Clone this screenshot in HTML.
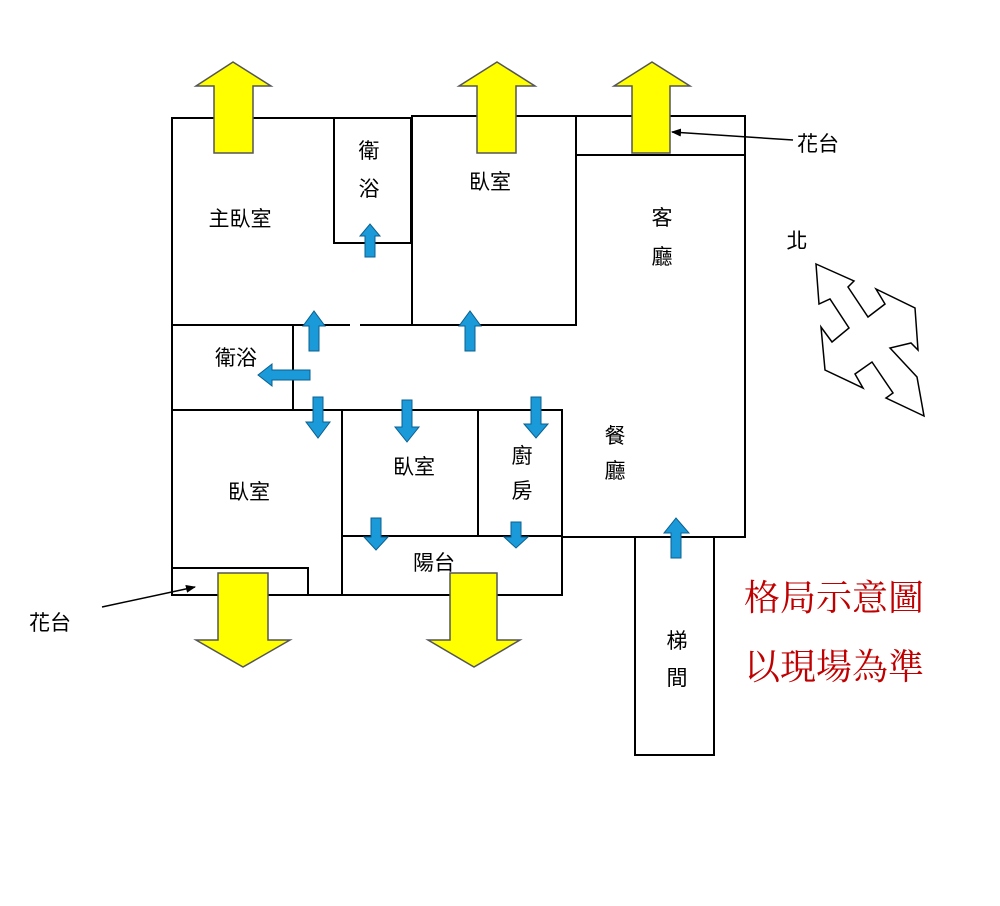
<!DOCTYPE html>
<html><head><meta charset="utf-8"><style>
body{margin:0;background:#fff}
text{font-family:"Liberation Sans","Noto Sans CJK TC",sans-serif;fill:#000}
</style></head><body>
<svg width="1000" height="901" xmlns="http://www.w3.org/2000/svg">
<defs>
<marker id="ah" markerWidth="10" markerHeight="8" refX="9" refY="4" orient="auto" markerUnits="userSpaceOnUse"><path d="M0,0L10,4L0,8z" fill="#000"/></marker>
</defs>
<g fill="none" stroke="#000" stroke-width="2">
<path d="M172,325V118H334"/>
<path d="M334,118H411V243H334V118"/>
<rect x="412" y="116" width="164" height="209"/>
<path d="M576,116H745V537H562"/>
<path d="M576,155H745"/>
<path d="M172,325H350M360,325H576"/>
<path d="M172,325V595H342"/>
<path d="M293,325V410"/>
<path d="M172,410H562V595H342V410"/>
<path d="M478,410V536"/>
<path d="M342,536H562"/>
<path d="M172,568H308V595"/>
<path d="M635,537V755H714V537"/>
</g>
<g stroke="#000" stroke-width="1.5">
<line x1="793" y1="140" x2="672" y2="132" marker-end="url(#ah)"/>
<line x1="102" y1="607" x2="195" y2="587" marker-end="url(#ah)"/>
</g>
<g fill="#ffff00" stroke="#555" stroke-width="1.5">
<path d="M214,153V86H196L233,62L271,86H253V153Z"/>
<path d="M477,153V86H459L497,62L535,86H516V153Z"/>
<path d="M632,153V86H614L652,62L690,86H670V153Z"/>
<path d="M218,573V640H196L243,667L290,640H268V573Z"/>
<path d="M450,573V640H428L474,667L520,640H497V573Z"/>
</g>
<g fill="#1a9ad9" stroke="#0b5f8f" stroke-width="1">
<path d="M365,257V236H360L370,224L380,236H375V257Z"/>
<path d="M309,351V326H303L314,311L325,326H319V351Z"/>
<path d="M465,351V326H459L470,311L481,326H475V351Z"/>
<path d="M310,370H272V364L258,375L272,386V380H310Z"/>
<path d="M313,397V422H306L318,438L330,422H323V397Z"/>
<path d="M402,400V427H395L407,442L419,427H412V400Z"/>
<path d="M531,397V424H524L536,438L548,424H541V397Z"/>
<path d="M371,518V537H364L376,550L388,537H381V518Z"/>
<path d="M511,522V537H504L516,548L528,537H521V522Z"/>
<path d="M671,558V533H664L676,518L689,533H681V558Z"/>
</g>
<path d="M816,264L854,281L848,287L868,317L885,304L876,289L915,308L918,350L911,343L890,348L917,377L924,416L886,398L893,393L872,362L855,374L863,388L825,370L821,327L832,342L849,328L830,299L819,304Z" fill="none" stroke="#000" stroke-width="1.5"/>
<g font-size="21">
<text x="240" y="226" text-anchor="middle">主臥室</text>
<text x="369" y="158" text-anchor="middle">衛</text>
<text x="369" y="196" text-anchor="middle">浴</text>
<text x="490" y="189" text-anchor="middle">臥室</text>
<text x="662" y="225" text-anchor="middle">客</text>
<text x="662" y="264" text-anchor="middle">廳</text>
<text x="236" y="365" text-anchor="middle">衛浴</text>
<text x="249" y="499" text-anchor="middle">臥室</text>
<text x="414" y="474" text-anchor="middle">臥室</text>
<text x="522" y="463" text-anchor="middle">廚</text>
<text x="522" y="498" text-anchor="middle">房</text>
<text x="615" y="443" text-anchor="middle">餐</text>
<text x="615" y="478" text-anchor="middle">廳</text>
<text x="434" y="570" text-anchor="middle">陽台</text>
<text x="677" y="648" text-anchor="middle">梯</text>
<text x="677" y="685" text-anchor="middle">間</text>
<text x="818" y="151" text-anchor="middle">花台</text>
<text x="50" y="630" text-anchor="middle">花台</text>
<text x="797" y="248" text-anchor="middle">北</text>
</g>
<text x="834" y="610" text-anchor="middle" font-size="36" style="fill:#c00000;font-family:'Noto Serif CJK SC',serif">格局示意圖</text>
<text x="834" y="679" text-anchor="middle" font-size="36" style="fill:#c00000;font-family:'Noto Serif CJK SC',serif">以現場為準</text>
</svg>
</body></html>
